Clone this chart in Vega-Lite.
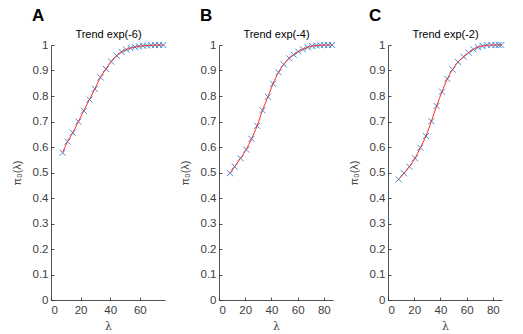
{
  "$schema": "https://vega.github.io/schema/vega-lite/v6.json",
  "background": "white",
  "padding": {"left": 11, "top": 7, "right": 0, "bottom": 0},
  "spacing": 10,
  "config": {
    "font": "Liberation Sans",
    "view": {"stroke": null},
    "axis": {
      "grid": false,
      "domainColor": "#262626",
      "tickColor": "#262626",
      "domainWidth": 0.8,
      "tickWidth": 0.8,
      "tickSize": -3,
      "labelPadding": 6,
      "labelFont": "Liberation Sans",
      "labelFontSize": 11.5,
      "labelColor": "#404040",
      "titleFont": "Liberation Sans",
      "titleFontSize": 11,
      "titleFontWeight": "normal",
      "titleColor": "#404040"
    }
  },
  "data": {
    "values": [
      {"panel": "A", "lambda": 7.9, "pi0": 0.578},
      {"panel": "A", "lambda": 11.1, "pi0": 0.621},
      {"panel": "A", "lambda": 14.7, "pi0": 0.656},
      {"panel": "A", "lambda": 18.5, "pi0": 0.700},
      {"panel": "A", "lambda": 22.1, "pi0": 0.742},
      {"panel": "A", "lambda": 26.0, "pi0": 0.786},
      {"panel": "A", "lambda": 29.6, "pi0": 0.828},
      {"panel": "A", "lambda": 33.4, "pi0": 0.873},
      {"panel": "A", "lambda": 37.1, "pi0": 0.906},
      {"panel": "A", "lambda": 40.7, "pi0": 0.935},
      {"panel": "A", "lambda": 44.3, "pi0": 0.958},
      {"panel": "A", "lambda": 47.7, "pi0": 0.973},
      {"panel": "A", "lambda": 50.8, "pi0": 0.982},
      {"panel": "A", "lambda": 53.8, "pi0": 0.988},
      {"panel": "A", "lambda": 56.7, "pi0": 0.992},
      {"panel": "A", "lambda": 59.4, "pi0": 0.995},
      {"panel": "A", "lambda": 62.1, "pi0": 0.997},
      {"panel": "A", "lambda": 64.9, "pi0": 0.998},
      {"panel": "A", "lambda": 67.6, "pi0": 0.999},
      {"panel": "A", "lambda": 70.3, "pi0": 1.0},
      {"panel": "A", "lambda": 73.0, "pi0": 1.0},
      {"panel": "A", "lambda": 75.9, "pi0": 1.0},
      {"panel": "B", "lambda": 8.4, "pi0": 0.497},
      {"panel": "B", "lambda": 11.9, "pi0": 0.523},
      {"panel": "B", "lambda": 16.4, "pi0": 0.556},
      {"panel": "B", "lambda": 20.8, "pi0": 0.590},
      {"panel": "B", "lambda": 24.8, "pi0": 0.632},
      {"panel": "B", "lambda": 29.1, "pi0": 0.683},
      {"panel": "B", "lambda": 33.2, "pi0": 0.744},
      {"panel": "B", "lambda": 37.3, "pi0": 0.797},
      {"panel": "B", "lambda": 41.3, "pi0": 0.848},
      {"panel": "B", "lambda": 45.4, "pi0": 0.893},
      {"panel": "B", "lambda": 49.4, "pi0": 0.924},
      {"panel": "B", "lambda": 53.5, "pi0": 0.948},
      {"panel": "B", "lambda": 57.0, "pi0": 0.962},
      {"panel": "B", "lambda": 60.5, "pi0": 0.974},
      {"panel": "B", "lambda": 64.1, "pi0": 0.983},
      {"panel": "B", "lambda": 67.7, "pi0": 0.991},
      {"panel": "B", "lambda": 71.2, "pi0": 0.996},
      {"panel": "B", "lambda": 74.2, "pi0": 0.998},
      {"panel": "B", "lambda": 77.3, "pi0": 0.999},
      {"panel": "B", "lambda": 80.3, "pi0": 1.0},
      {"panel": "B", "lambda": 83.3, "pi0": 1.0},
      {"panel": "B", "lambda": 86.3, "pi0": 1.0},
      {"panel": "C", "lambda": 8.1, "pi0": 0.473},
      {"panel": "C", "lambda": 12.2, "pi0": 0.497},
      {"panel": "C", "lambda": 16.3, "pi0": 0.523},
      {"panel": "C", "lambda": 20.6, "pi0": 0.556},
      {"panel": "C", "lambda": 24.7, "pi0": 0.597},
      {"panel": "C", "lambda": 29.0, "pi0": 0.643},
      {"panel": "C", "lambda": 33.1, "pi0": 0.701},
      {"panel": "C", "lambda": 37.1, "pi0": 0.761},
      {"panel": "C", "lambda": 41.2, "pi0": 0.817},
      {"panel": "C", "lambda": 45.3, "pi0": 0.867},
      {"panel": "C", "lambda": 49.3, "pi0": 0.904},
      {"panel": "C", "lambda": 53.4, "pi0": 0.933},
      {"panel": "C", "lambda": 57.7, "pi0": 0.954},
      {"panel": "C", "lambda": 61.5, "pi0": 0.970},
      {"panel": "C", "lambda": 65.3, "pi0": 0.983},
      {"panel": "C", "lambda": 68.7, "pi0": 0.991},
      {"panel": "C", "lambda": 72.2, "pi0": 0.996},
      {"panel": "C", "lambda": 75.6, "pi0": 0.999},
      {"panel": "C", "lambda": 78.9, "pi0": 1.0},
      {"panel": "C", "lambda": 81.9, "pi0": 1.0},
      {"panel": "C", "lambda": 84.5, "pi0": 1.0},
      {"panel": "C", "lambda": 86.5, "pi0": 1.0}
    ]
  },
  "hconcat": [
    {
      "width": 114, "height": 255,
      "title": {"text": "A", "anchor": "start", "frame": "group", "dx": -19, "fontSize": 17, "fontWeight": "bold", "color": "#000000", "offset": 3},
      "transform": [{"filter": "datum.panel === 'A'"}],
      "resolve": {"axis": {"x": "independent", "y": "independent"}},
      "layer": [
        {
          "mark": {"type": "point", "shape": "M-1,-1L1,1M-1,1L1,-1", "filled": false, "stroke": "#3a8ed4", "strokeWidth": 1, "size": 36, "opacity": 1},
          "encoding": {
            "x": {"field": "lambda", "type": "quantitative", "scale": {"domain": [0, 77], "nice": false},
                  "axis": {"orient": "bottom", "values": [0, 20, 40, 60], "title": "λ", "titleFont": "DejaVu Serif", "titlePadding": 5, "labelPadding": 7}},
            "y": {"field": "pi0", "type": "quantitative", "scale": {"domain": [0, 1], "nice": false},
                  "axis": {"orient": "left", "values": [0, 0.1, 0.2, 0.3, 0.4, 0.5, 0.6, 0.7, 0.8, 0.9, 1], "format": "~g", "title": "π₀(λ)", "titlePadding": 10}}
          }
        },
        {
          "mark": {"type": "line", "color": "#ff2a2a", "strokeWidth": 1, "interpolate": "monotone"},
          "encoding": {
            "x": {"field": "lambda", "type": "quantitative", "scale": {"domain": [0, 77], "nice": false}, "axis": {"orient": "top", "ticks": false, "labels": false, "domain": false, "title": "Trend exp(-6)", "titleColor": "#000000", "titlePadding": 6}},
            "y": {"field": "pi0", "type": "quantitative", "axis": null}
          }
        }
      ]
    },
    {
      "width": 114, "height": 255,
      "title": {"text": "B", "anchor": "start", "frame": "group", "dx": -19, "fontSize": 17, "fontWeight": "bold", "color": "#000000", "offset": 3},
      "transform": [{"filter": "datum.panel === 'B'"}],
      "resolve": {"axis": {"x": "independent", "y": "independent"}},
      "layer": [
        {
          "mark": {"type": "point", "shape": "M-1,-1L1,1M-1,1L1,-1", "filled": false, "stroke": "#3a8ed4", "strokeWidth": 1, "size": 36, "opacity": 1},
          "encoding": {
            "x": {"field": "lambda", "type": "quantitative", "scale": {"domain": [0, 87], "nice": false},
                  "axis": {"orient": "bottom", "values": [0, 20, 40, 60, 80], "title": "λ", "titleFont": "DejaVu Serif", "titlePadding": 5, "labelPadding": 7}},
            "y": {"field": "pi0", "type": "quantitative", "scale": {"domain": [0, 1], "nice": false},
                  "axis": {"orient": "left", "values": [0, 0.1, 0.2, 0.3, 0.4, 0.5, 0.6, 0.7, 0.8, 0.9, 1], "format": "~g", "title": "π₀(λ)", "titlePadding": 10}}
          }
        },
        {
          "mark": {"type": "line", "color": "#ff2a2a", "strokeWidth": 1, "interpolate": "monotone"},
          "encoding": {
            "x": {"field": "lambda", "type": "quantitative", "scale": {"domain": [0, 87], "nice": false}, "axis": {"orient": "top", "ticks": false, "labels": false, "domain": false, "title": "Trend exp(-4)", "titleColor": "#000000", "titlePadding": 6}},
            "y": {"field": "pi0", "type": "quantitative", "axis": null}
          }
        }
      ]
    },
    {
      "width": 114, "height": 255,
      "title": {"text": "C", "anchor": "start", "frame": "group", "dx": -19, "fontSize": 17, "fontWeight": "bold", "color": "#000000", "offset": 3},
      "transform": [{"filter": "datum.panel === 'C'"}],
      "resolve": {"axis": {"x": "independent", "y": "independent"}},
      "layer": [
        {
          "mark": {"type": "point", "shape": "M-1,-1L1,1M-1,1L1,-1", "filled": false, "stroke": "#3a8ed4", "strokeWidth": 1, "size": 36, "opacity": 1},
          "encoding": {
            "x": {"field": "lambda", "type": "quantitative", "scale": {"domain": [0, 87], "nice": false},
                  "axis": {"orient": "bottom", "values": [0, 20, 40, 60, 80], "title": "λ", "titleFont": "DejaVu Serif", "titlePadding": 5, "labelPadding": 7}},
            "y": {"field": "pi0", "type": "quantitative", "scale": {"domain": [0, 1], "nice": false},
                  "axis": {"orient": "left", "values": [0, 0.1, 0.2, 0.3, 0.4, 0.5, 0.6, 0.7, 0.8, 0.9, 1], "format": "~g", "title": "π₀(λ)", "titlePadding": 10}}
          }
        },
        {
          "mark": {"type": "line", "color": "#ff2a2a", "strokeWidth": 1, "interpolate": "monotone"},
          "encoding": {
            "x": {"field": "lambda", "type": "quantitative", "scale": {"domain": [0, 87], "nice": false}, "axis": {"orient": "top", "ticks": false, "labels": false, "domain": false, "title": "Trend exp(-2)", "titleColor": "#000000", "titlePadding": 6}},
            "y": {"field": "pi0", "type": "quantitative", "axis": null}
          }
        }
      ]
    }
  ]
}
